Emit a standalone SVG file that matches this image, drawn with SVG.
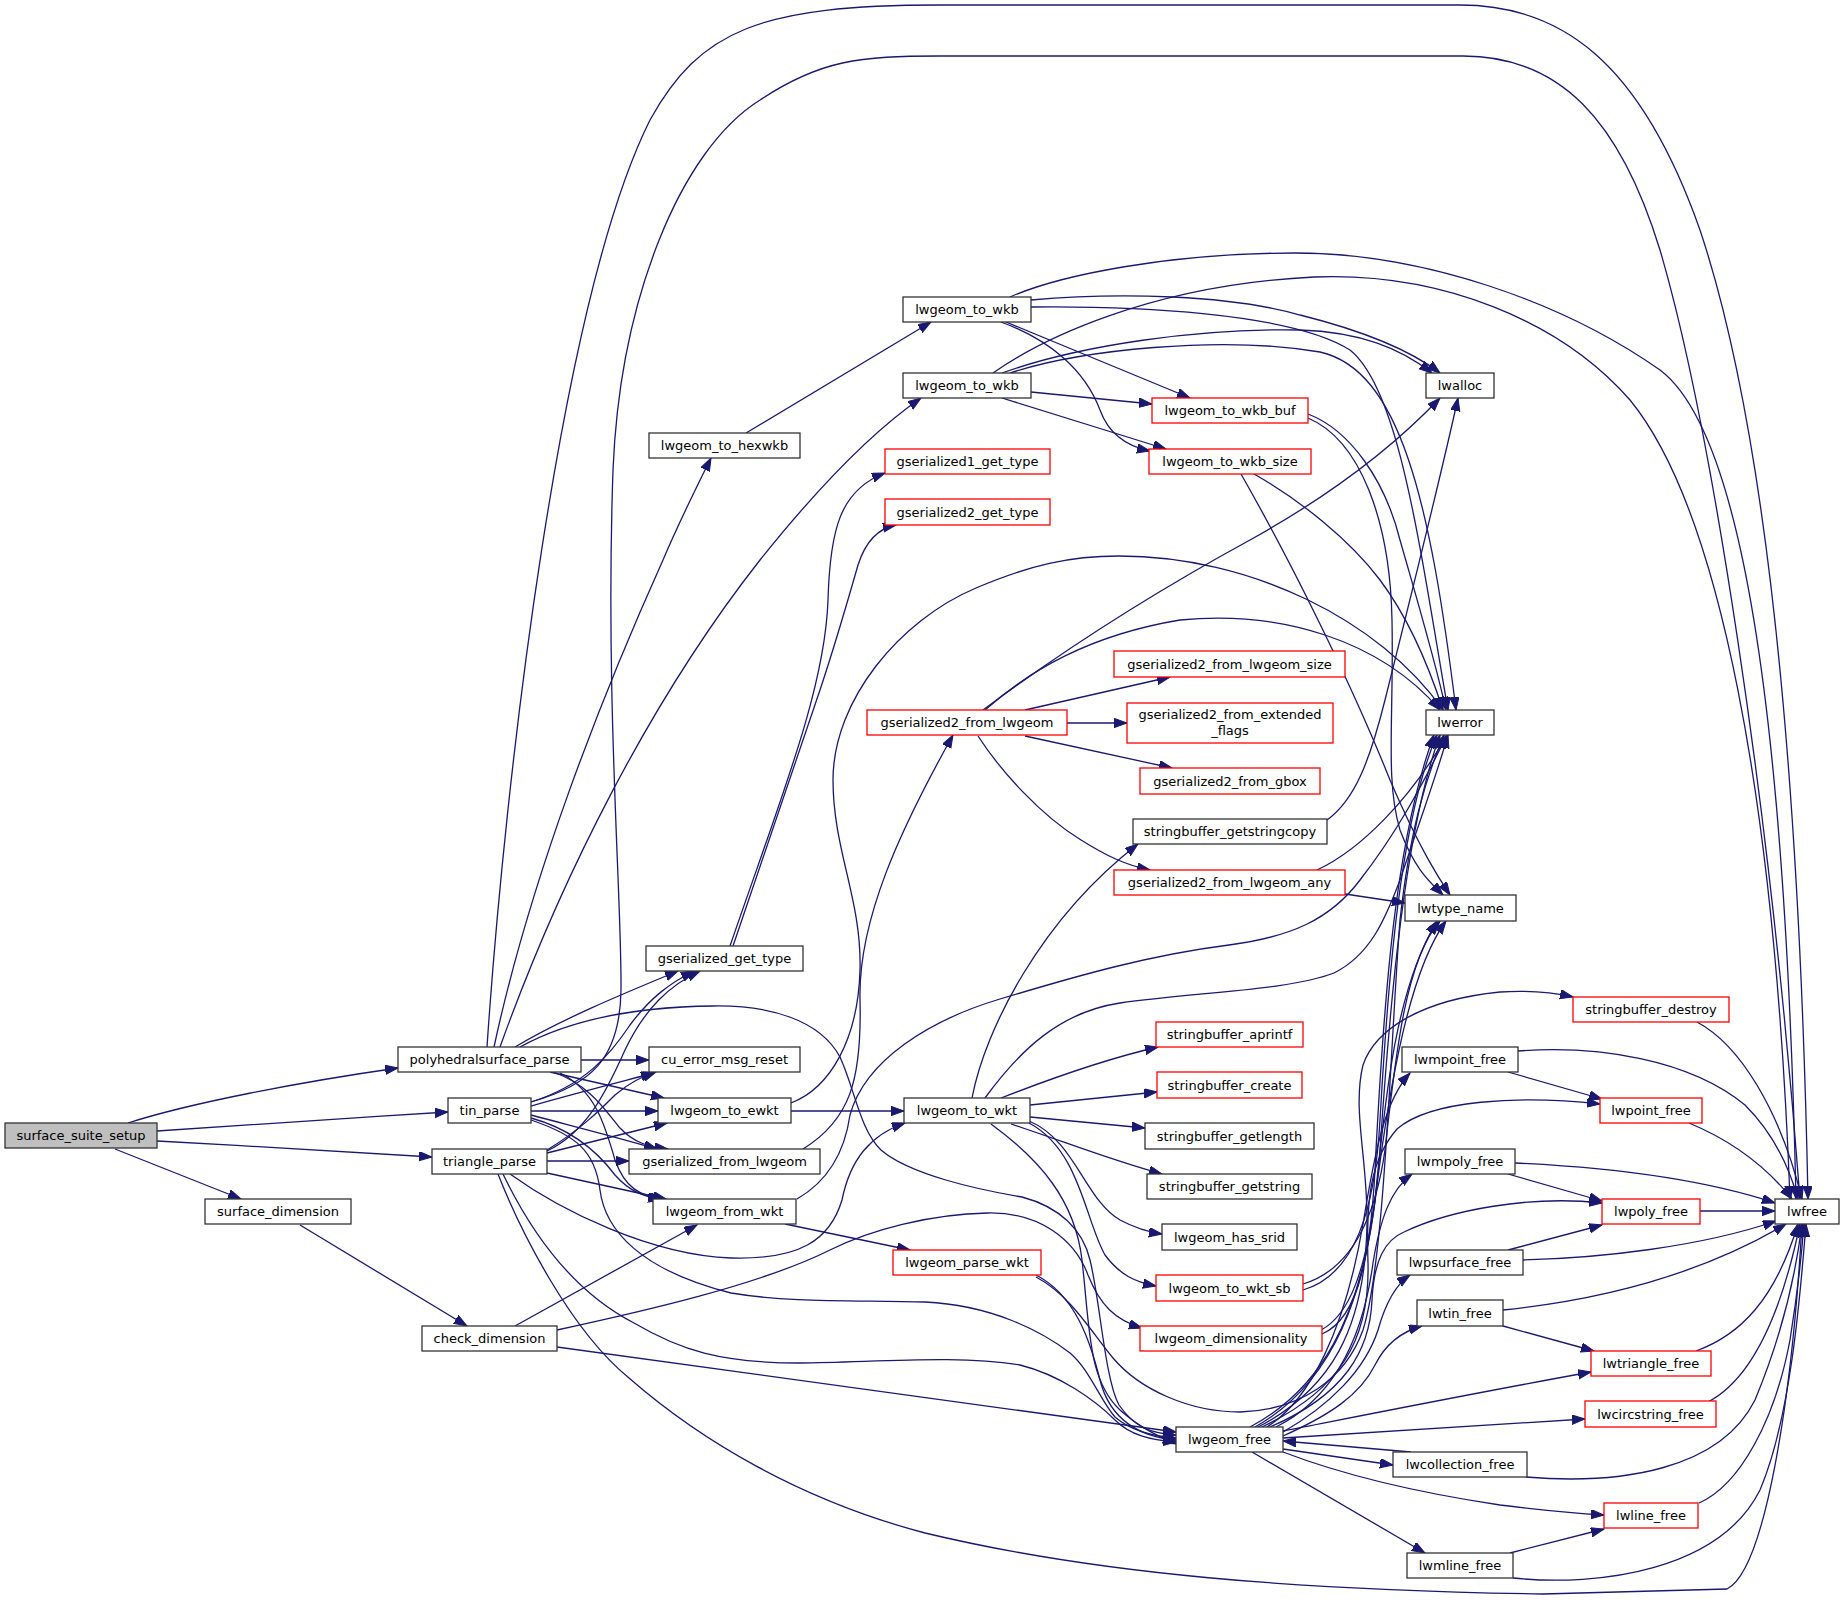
<svg xmlns="http://www.w3.org/2000/svg" width="1844" height="1601" viewBox="0 0 1844 1601">
<style>
.n rect{fill:#fff;stroke:#333;stroke-width:1.3}
.r rect{stroke:#f00}
.g rect{fill:#bfbfbf}
text{font-family:"DejaVu Sans","Liberation Sans",sans-serif;font-size:13px;text-anchor:middle;fill:#000}
.e path{fill:none;stroke:#191970;stroke-width:1.3;marker-end:url(#a)}
</style>
<defs>
<marker id="a" markerUnits="userSpaceOnUse" markerWidth="14" markerHeight="11" refX="13" refY="4.7" orient="auto">
<path d="M0,0 L13,4.7 L0,9.4 z" fill="#191970" stroke="#191970" stroke-width="1"/>
</marker>
</defs>
<rect width="1844" height="1601" fill="#fff"/>
<g id="edges" class="e">
<path d="M128,1123 C190,1103 300,1082 398,1068"/>
<path d="M157,1131 C250,1125 350,1118 448,1112"/>
<path d="M157,1141 C250,1146 350,1152 432,1157"/>
<path d="M115,1149 L241,1199"/>
<path d="M300,1225 L467,1326"/>
<path d="M581,1060 L649,1060"/>
<path d="M550,1072 L664,1098"/>
<path d="M553,1072 C590,1085 605,1110 620,1128 C633,1142 648,1147 668,1149"/>
<path d="M560,1073 C595,1090 605,1125 615,1160 C625,1188 640,1196 663,1199"/>
<path d="M515,1047 C560,1020 620,995 678,971"/>
<path d="M520,1047 C560,1025 620,1007 713,1006 C770,1005 820,1020 840,1057 C855,1090 860,1130 881,1150 C910,1175 980,1190 1022,1197 C1060,1207 1083,1230 1090,1260 C1100,1300 1105,1380 1119,1405 C1135,1428 1150,1433 1176,1435"/>
<path d="M494,1047 C530,880 600,700 663,560 C680,520 695,490 711,458"/>
<path d="M500,1047 C560,880 650,700 760,560 C800,510 860,440 921,398"/>
<path d="M487,1047 C505,780 560,300 650,120 C700,30 760,5 940,5 L1460,5 C1560,5 1640,60 1700,230 C1770,440 1800,800 1808,1199"/>
<path d="M531,1111 L658,1111"/>
<path d="M531,1106 C580,1092 620,1082 654,1073"/>
<path d="M531,1102 C585,1085 610,1055 630,1025 C650,998 670,983 694,971"/>
<path d="M531,1115 C580,1128 620,1138 657,1149"/>
<path d="M531,1118 C575,1130 600,1155 615,1175 C630,1192 645,1197 661,1199"/>
<path d="M531,1120 C575,1135 595,1150 600,1190 C605,1230 640,1270 731,1293 C790,1303 860,1300 925,1302 C990,1305 1040,1330 1070,1353 C1090,1370 1100,1400 1115,1417 C1130,1430 1150,1436 1176,1438"/>
<path d="M531,1102 C590,1085 620,1060 621,990 C622,900 605,700 613,470 C620,300 680,150 760,100 C820,60 860,56 940,56 L1463,56 C1560,56 1620,120 1660,250 C1710,420 1770,800 1800,1199"/>
<path d="M547,1161 L629,1161"/>
<path d="M547,1153 L667,1123"/>
<path d="M547,1150 C580,1130 600,1110 615,1095 C630,1082 642,1077 656,1072"/>
<path d="M547,1151 C585,1133 605,1095 625,1050 C645,1008 670,985 700,971"/>
<path d="M547,1173 L666,1199"/>
<path d="M510,1174 C560,1210 650,1255 731,1258 C800,1260 830,1240 842,1200 C850,1160 870,1135 905,1123"/>
<path d="M503,1174 C530,1230 570,1290 634,1323 C680,1350 720,1363 800,1363 C880,1362 960,1355 1020,1365 C1060,1375 1095,1400 1115,1420 C1130,1435 1150,1440 1176,1442"/>
<path d="M498,1174 C520,1230 570,1330 629,1378 C700,1440 800,1500 925,1533 C1100,1575 1300,1590 1543,1594 L1727,1589 C1765,1570 1792,1400 1802,1224"/>
<path d="M515,1326 L697,1225"/>
<path d="M557,1330 C640,1312 760,1285 830,1250 C870,1230 930,1214 988,1213 C1040,1212 1075,1240 1088,1275 C1100,1305 1115,1320 1142,1328"/>
<path d="M557,1347 L1176,1432"/>
<path d="M791,1111 L904,1111"/>
<path d="M791,1103 C830,1088 858,1040 860,970 C862,900 833,850 833,780 C833,700 900,620 976,588 C1030,565 1070,556 1119,556 C1250,556 1380,620 1443,710"/>
<path d="M803,1149 C850,1120 862,1080 860,1000 C858,920 900,830 953,735"/>
<path d="M785,1224 L910,1250"/>
<path d="M797,1199 C830,1180 845,1150 850,1115 C865,1060 930,1020 1000,999 C1080,975 1150,955 1229,945 C1290,937 1330,920 1360,880 C1395,835 1420,790 1447,735"/>
<path d="M1036,1275 C1075,1295 1090,1340 1100,1380 C1110,1420 1140,1437 1176,1440"/>
<path d="M1036,1277 C1070,1295 1090,1330 1113,1358 C1140,1390 1190,1412 1240,1412 C1300,1410 1345,1380 1363,1330 C1385,1260 1390,1050 1400,920 C1410,830 1425,780 1444,735"/>
<path d="M730,946 C780,800 825,690 828,600 C830,530 840,490 885,473"/>
<path d="M733,946 L820,690 C835,645 848,600 858,565 C866,540 880,528 896,525"/>
<path d="M746,433 L931,322"/>
<path d="M1006,322 L1190,398"/>
<path d="M1001,322 C1050,340 1085,370 1100,410 C1108,432 1125,446 1150,451"/>
<path d="M1031,300 C1120,292 1230,295 1300,315 C1360,330 1410,350 1440,373"/>
<path d="M1031,307 C1130,306 1290,312 1350,350 C1400,390 1420,550 1448,710"/>
<path d="M1010,297 C1060,275 1170,253 1295,253 C1420,253 1560,300 1660,370 C1740,430 1785,700 1796,1199"/>
<path d="M1031,392 L1152,404"/>
<path d="M1002,398 L1166,449"/>
<path d="M1002,373 C1080,345 1200,328 1300,330 C1360,332 1400,348 1432,373"/>
<path d="M1010,373 C1080,350 1220,335 1320,352 C1400,370 1430,500 1456,710"/>
<path d="M993,373 C1040,340 1150,285 1314,277 C1440,272 1560,320 1630,400 C1720,510 1775,800 1790,1199"/>
<path d="M1308,414 C1350,430 1385,480 1400,540 C1420,610 1435,660 1446,710"/>
<path d="M1308,418 C1360,440 1390,520 1392,620 C1394,720 1385,780 1400,830 C1415,870 1430,882 1443,895"/>
<path d="M1254,474 C1300,500 1350,540 1380,580 C1410,620 1430,670 1443,710"/>
<path d="M1241,474 C1290,560 1350,680 1390,780 C1420,850 1440,880 1450,895"/>
<path d="M1025,710 L1170,677"/>
<path d="M1067,723 L1127,723"/>
<path d="M1025,736 L1172,768"/>
<path d="M978,736 C1000,770 1040,815 1081,840 C1105,855 1125,865 1150,870"/>
<path d="M983,710 C1050,660 1140,600 1250,540 C1340,490 1400,440 1440,398"/>
<path d="M985,710 C1030,670 1090,635 1180,620 C1280,610 1380,640 1440,710"/>
<path d="M972,1098 C985,1030 1040,920 1138,844"/>
<path d="M985,1098 C1020,1050 1060,1012 1120,1003 C1200,992 1290,990 1334,973 C1370,955 1385,920 1400,880 C1420,820 1435,780 1448,735"/>
<path d="M1001,1098 C1060,1075 1110,1058 1158,1047"/>
<path d="M1030,1105 L1157,1092"/>
<path d="M1030,1117 L1145,1128"/>
<path d="M1011,1124 C1060,1140 1110,1160 1162,1174"/>
<path d="M1029,1121 C1075,1140 1085,1200 1120,1220 C1135,1228 1148,1232 1162,1234"/>
<path d="M1029,1123 C1080,1150 1085,1220 1105,1255 C1120,1275 1135,1282 1156,1286"/>
<path d="M991,1124 C1040,1160 1075,1200 1082,1260 C1090,1330 1088,1380 1120,1410 C1140,1428 1160,1437 1176,1444"/>
<path d="M1327,820 C1355,800 1370,760 1385,700 C1410,600 1440,480 1458,398"/>
<path d="M1345,894 L1405,903"/>
<path d="M1317,870 C1360,850 1410,800 1447,735"/>
<path d="M1303,1284 C1350,1270 1375,1220 1385,1150 C1395,1060 1405,960 1440,921"/>
<path d="M1303,1290 C1355,1275 1375,1210 1380,1120 C1388,980 1400,820 1437,735"/>
<path d="M1321,1330 C1350,1315 1365,1270 1375,1200 C1390,1080 1410,970 1446,921"/>
<path d="M1322,1334 C1360,1318 1372,1250 1376,1150 C1384,1000 1395,840 1434,735"/>
<path d="M1250,1427 C1320,1390 1360,1320 1375,1200 C1385,1100 1395,990 1437,921"/>
<path d="M1255,1427 C1330,1385 1370,1300 1380,1150 C1390,1000 1405,830 1440,735"/>
<path d="M1258,1427 C1330,1390 1365,1330 1367,1224 C1368,1160 1352,1110 1363,1065 C1375,1030 1420,1000 1500,992 C1530,990 1555,993 1573,997"/>
<path d="M1262,1427 C1340,1390 1370,1340 1368,1263 C1366,1200 1370,1160 1397,1129 C1430,1100 1520,1095 1600,1104"/>
<path d="M1270,1427 C1345,1395 1370,1350 1372,1300 C1374,1260 1385,1240 1404,1232 C1450,1210 1530,1195 1602,1203"/>
<path d="M1267,1427 C1310,1400 1345,1330 1363,1224 C1375,1150 1385,1100 1410,1073"/>
<path d="M1276,1427 C1320,1405 1360,1360 1373,1263 C1380,1220 1390,1190 1412,1174"/>
<path d="M1283,1432 C1330,1405 1365,1370 1378,1330 C1385,1305 1395,1285 1410,1275"/>
<path d="M1283,1436 C1330,1415 1360,1395 1375,1365 C1385,1345 1400,1332 1422,1326"/>
<path d="M1283,1431 C1380,1412 1480,1392 1591,1372"/>
<path d="M1283,1438 C1380,1432 1480,1425 1585,1419"/>
<path d="M1283,1449 L1393,1465"/>
<path d="M1411,1452 L1283,1441"/>
<path d="M1283,1452 C1330,1470 1400,1490 1500,1505 C1540,1510 1570,1513 1604,1515"/>
<path d="M1252,1452 L1425,1553"/>
<path d="M1508,1072 L1602,1099"/>
<path d="M1518,1051 C1600,1045 1690,1060 1745,1105 C1775,1135 1790,1170 1798,1199"/>
<path d="M1697,1022 C1740,1045 1780,1110 1802,1199"/>
<path d="M1689,1123 C1730,1140 1765,1165 1792,1199"/>
<path d="M1508,1174 L1602,1201"/>
<path d="M1515,1163 C1600,1167 1700,1178 1775,1203"/>
<path d="M1700,1211 L1775,1211"/>
<path d="M1508,1250 L1602,1225"/>
<path d="M1523,1260 C1600,1258 1700,1247 1776,1221"/>
<path d="M1503,1326 L1594,1351"/>
<path d="M1503,1310 C1600,1300 1700,1275 1786,1224"/>
<path d="M1696,1351 C1740,1335 1775,1300 1798,1224"/>
<path d="M1708,1402 C1750,1380 1780,1320 1800,1224"/>
<path d="M1526,1477 C1620,1485 1720,1470 1755,1400 C1780,1340 1795,1280 1802,1224"/>
<path d="M1699,1503 C1740,1485 1775,1420 1790,1340 C1798,1290 1802,1250 1804,1224"/>
<path d="M1510,1553 L1604,1529"/>
<path d="M1513,1578 C1600,1587 1720,1570 1760,1490 C1790,1420 1800,1300 1806,1224"/>
</g>
<g id="n0" class="n g"><rect x="5" y="1123" width="152" height="25"/><text x="81" y="1140">surface_suite_setup</text></g>
<g id="n1" class="n"><rect x="398" y="1047" width="183" height="25"/><text x="489.5" y="1064">polyhedralsurface_parse</text></g>
<g id="n2" class="n"><rect x="448" y="1098" width="83" height="25"/><text x="489.5" y="1115">tin_parse</text></g>
<g id="n3" class="n"><rect x="432" y="1149" width="115" height="25"/><text x="489.5" y="1166">triangle_parse</text></g>
<g id="n4" class="n"><rect x="205" y="1199" width="146" height="25"/><text x="278" y="1216">surface_dimension</text></g>
<g id="n5" class="n"><rect x="422" y="1326" width="135" height="25"/><text x="489.5" y="1343">check_dimension</text></g>
<g id="n6" class="n"><rect x="649" y="433" width="151" height="25"/><text x="724.5" y="450">lwgeom_to_hexwkb</text></g>
<g id="n7" class="n"><rect x="646" y="946" width="157" height="25"/><text x="724.5" y="963">gserialized_get_type</text></g>
<g id="n8" class="n"><rect x="649" y="1047" width="151" height="25"/><text x="724.5" y="1064">cu_error_msg_reset</text></g>
<g id="n9" class="n"><rect x="658" y="1098" width="133" height="25"/><text x="724.5" y="1115">lwgeom_to_ewkt</text></g>
<g id="n10" class="n"><rect x="629" y="1149" width="191" height="25"/><text x="724.5" y="1166">gserialized_from_lwgeom</text></g>
<g id="n11" class="n"><rect x="653" y="1199" width="143" height="25"/><text x="724.5" y="1216">lwgeom_from_wkt</text></g>
<g id="n12" class="n"><rect x="903" y="297" width="128" height="25"/><text x="967" y="314">lwgeom_to_wkb</text></g>
<g id="n13" class="n"><rect x="903" y="373" width="128" height="25"/><text x="967" y="390">lwgeom_to_wkb</text></g>
<g id="n14" class="n r"><rect x="885" y="449" width="165" height="25"/><text x="967.5" y="466">gserialized1_get_type</text></g>
<g id="n15" class="n r"><rect x="885" y="499" width="165" height="26"/><text x="967.5" y="516.5">gserialized2_get_type</text></g>
<g id="n16" class="n r"><rect x="867" y="710" width="200" height="25"/><text x="967" y="727">gserialized2_from_lwgeom</text></g>
<g id="n17" class="n"><rect x="904" y="1098" width="126" height="25"/><text x="967" y="1115">lwgeom_to_wkt</text></g>
<g id="n18" class="n r"><rect x="893" y="1250" width="148" height="25"/><text x="967" y="1267">lwgeom_parse_wkt</text></g>
<g id="n19" class="n r"><rect x="1152" y="398" width="156" height="25"/><text x="1230" y="415">lwgeom_to_wkb_buf</text></g>
<g id="n20" class="n r"><rect x="1149" y="449" width="162" height="25"/><text x="1230" y="466">lwgeom_to_wkb_size</text></g>
<g id="n21" class="n r"><rect x="1114" y="651" width="231" height="26"/><text x="1229.5" y="668.5">gserialized2_from_lwgeom_size</text></g>
<g id="n22" class="n r"><rect x="1127" y="703" width="206" height="40"/><text x="1230" y="719">gserialized2_from_extended</text><text x="1230" y="735">_flags</text></g>
<g id="n23" class="n r"><rect x="1140" y="768" width="180" height="26"/><text x="1230" y="785.5">gserialized2_from_gbox</text></g>
<g id="n24" class="n"><rect x="1133" y="819" width="194" height="25"/><text x="1230" y="836">stringbuffer_getstringcopy</text></g>
<g id="n25" class="n r"><rect x="1114" y="870" width="231" height="25"/><text x="1229.5" y="887">gserialized2_from_lwgeom_any</text></g>
<g id="n26" class="n r"><rect x="1156" y="1022" width="147" height="25"/><text x="1229.5" y="1039">stringbuffer_aprintf</text></g>
<g id="n27" class="n r"><rect x="1157" y="1072" width="145" height="26"/><text x="1229.5" y="1089.5">stringbuffer_create</text></g>
<g id="n28" class="n"><rect x="1145" y="1123" width="169" height="26"/><text x="1229.5" y="1140.5">stringbuffer_getlength</text></g>
<g id="n29" class="n"><rect x="1147" y="1174" width="165" height="25"/><text x="1229.5" y="1191">stringbuffer_getstring</text></g>
<g id="n30" class="n"><rect x="1162" y="1224" width="135" height="26"/><text x="1229.5" y="1241.5">lwgeom_has_srid</text></g>
<g id="n31" class="n r"><rect x="1156" y="1275" width="147" height="26"/><text x="1229.5" y="1292.5">lwgeom_to_wkt_sb</text></g>
<g id="n32" class="n r"><rect x="1140" y="1326" width="182" height="25"/><text x="1231" y="1343">lwgeom_dimensionality</text></g>
<g id="n33" class="n"><rect x="1176" y="1427" width="107" height="25"/><text x="1229.5" y="1444">lwgeom_free</text></g>
<g id="n34" class="n"><rect x="1426" y="373" width="68" height="25"/><text x="1460" y="390">lwalloc</text></g>
<g id="n35" class="n"><rect x="1426" y="710" width="68" height="25"/><text x="1460" y="727">lwerror</text></g>
<g id="n36" class="n"><rect x="1405" y="895" width="111" height="26"/><text x="1460.5" y="912.5">lwtype_name</text></g>
<g id="n37" class="n"><rect x="1402" y="1047" width="116" height="25"/><text x="1460" y="1064">lwmpoint_free</text></g>
<g id="n38" class="n"><rect x="1405" y="1149" width="110" height="25"/><text x="1460" y="1166">lwmpoly_free</text></g>
<g id="n39" class="n"><rect x="1397" y="1250" width="126" height="25"/><text x="1460" y="1267">lwpsurface_free</text></g>
<g id="n40" class="n"><rect x="1417" y="1300" width="86" height="26"/><text x="1460" y="1317.5">lwtin_free</text></g>
<g id="n41" class="n"><rect x="1393" y="1452" width="134" height="25"/><text x="1460" y="1469">lwcollection_free</text></g>
<g id="n42" class="n"><rect x="1407" y="1553" width="106" height="25"/><text x="1460" y="1570">lwmline_free</text></g>
<g id="n43" class="n r"><rect x="1573" y="997" width="156" height="25"/><text x="1651" y="1014">stringbuffer_destroy</text></g>
<g id="n44" class="n r"><rect x="1600" y="1098" width="102" height="25"/><text x="1651" y="1115">lwpoint_free</text></g>
<g id="n45" class="n r"><rect x="1602" y="1199" width="98" height="25"/><text x="1651" y="1216">lwpoly_free</text></g>
<g id="n46" class="n r"><rect x="1591" y="1351" width="120" height="25"/><text x="1651" y="1368">lwtriangle_free</text></g>
<g id="n47" class="n r"><rect x="1585" y="1401" width="131" height="26"/><text x="1650.5" y="1418.5">lwcircstring_free</text></g>
<g id="n48" class="n r"><rect x="1604" y="1503" width="94" height="25"/><text x="1651" y="1520">lwline_free</text></g>
<g id="n49" class="n"><rect x="1775" y="1199" width="64" height="25"/><text x="1807" y="1216">lwfree</text></g>
</svg>
